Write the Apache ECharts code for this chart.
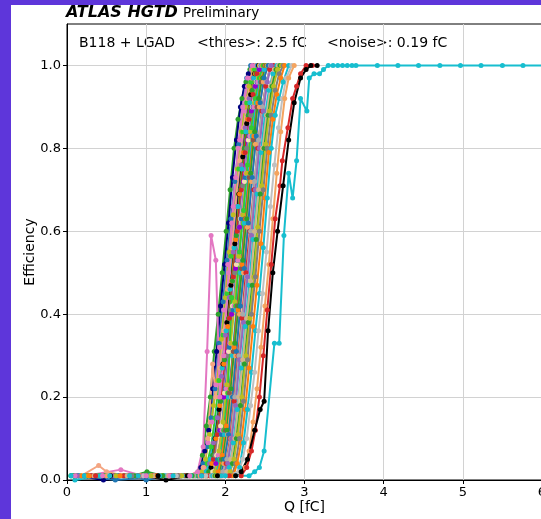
<!DOCTYPE html>
<html><head><meta charset="utf-8">
<script src="https://cdn.jsdelivr.net/npm/echarts@6/dist/echarts.min.js"></script>
<style>
html,body{margin:0;padding:0;background:#5e36da;width:541px;height:519px;overflow:hidden;}
#panel{position:absolute;left:11px;top:5px;width:530px;height:514px;background:#ffffff;}
#chart{position:absolute;left:0;top:0;width:541px;height:519px;}
</style></head>
<body><div id="panel"></div><div id="chart"></div>
<script>
// Tick labels
const xTicks = [0, 1, 2, 3, 4, 5, 6];
const yTicks = [0.0, 0.2, 0.4, 0.6, 0.8, 1.0];

// Efficiency curves: [Q (fC), efficiency]
const ch01 = [[0.08,0.01],[0.35,0.01],[0.62,0.01],[0.9,0.01],[1.18,0.01],[1.42,0.01],[1.62,0.01],[1.66,0.02],[1.71,0.06],[1.76,0.13],[1.81,0.2],[1.86,0.31],[1.91,0.4],[1.96,0.5],[2.01,0.6],[2.06,0.7],[2.11,0.8],[2.16,0.87],[2.21,0.92],[2.26,0.96],[2.31,0.99],[2.36,1.0],[2.5,1.0]];
const ch02 = [[0.14,0.01],[0.46,0.0],[0.78,0.01],[1.2,0.01],[1.48,0.01],[1.65,0.01],[1.69,0.03],[1.74,0.07],[1.79,0.12],[1.84,0.22],[1.89,0.31],[1.94,0.42],[1.99,0.52],[2.04,0.62],[2.09,0.73],[2.14,0.82],[2.19,0.9],[2.24,0.95],[2.29,0.98],[2.34,1.0],[2.45,1.0]];
const ch03 = [[0.15,0.01],[0.52,0.01],[0.81,0.01],[1.0,0.0],[1.28,0.01],[1.52,0.01],[1.67,0.01],[1.72,0.04],[1.77,0.08],[1.82,0.15],[1.87,0.22],[1.92,0.33],[1.97,0.43],[2.02,0.53],[2.07,0.63],[2.12,0.72],[2.17,0.81],[2.22,0.9],[2.27,0.97],[2.32,1.0],[2.4,1.0]];
const ch04 = [[0.24,0.01],[0.68,0.025],[0.96,0.01],[1.4,0.01],[1.58,0.01],[1.68,0.01],[1.73,0.03],[1.78,0.09],[1.83,0.14],[1.88,0.23],[1.93,0.32],[1.98,0.41],[2.03,0.52],[2.08,0.62],[2.13,0.73],[2.18,0.82],[2.23,0.89],[2.28,0.95],[2.33,0.99],[2.38,1.0]];
const ch05 = [[0.2,0.01],[0.57,0.01],[0.93,0.01],[1.3,0.01],[1.56,0.01],[1.7,0.02],[1.75,0.05],[1.8,0.11],[1.85,0.18],[1.9,0.24],[1.95,0.34],[2.0,0.44],[2.05,0.55],[2.1,0.64],[2.15,0.75],[2.2,0.84],[2.25,0.9],[2.3,0.95],[2.35,0.99],[2.4,1.0]];
const ch06 = [[0.05,0.01],[0.29,0.01],[0.6,0.01],[0.87,0.01],[1.13,0.01],[1.5,0.01],[1.72,0.01],[1.77,0.04],[1.82,0.08],[1.87,0.15],[1.92,0.24],[1.97,0.35],[2.02,0.45],[2.07,0.54],[2.12,0.66],[2.17,0.75],[2.22,0.84],[2.27,0.91],[2.32,0.96],[2.37,0.99],[2.42,1.0]];
const ch07 = [[0.18,0.01],[0.4,0.035],[0.5,0.02],[0.74,0.01],[1.08,0.01],[1.55,0.01],[1.72,0.03],[1.78,0.1],[1.84,0.28],[1.88,0.2],[1.93,0.27],[1.98,0.36],[2.03,0.46],[2.08,0.56],[2.13,0.66],[2.18,0.77],[2.23,0.85],[2.28,0.92],[2.33,0.97],[2.38,1.0],[2.48,1.0]];
const ch08 = [[0.35,0.01],[0.71,0.01],[1.1,0.01],[1.37,0.01],[1.61,0.01],[1.75,0.01],[1.8,0.04],[1.85,0.09],[1.9,0.15],[1.95,0.25],[2.0,0.35],[2.05,0.44],[2.1,0.55],[2.15,0.66],[2.2,0.76],[2.25,0.85],[2.3,0.92],[2.35,0.97],[2.4,1.0]];
const ch09 = [[0.1,0.0],[0.43,0.01],[0.75,0.01],[1.05,0.01],[1.45,0.01],[1.64,0.01],[1.76,0.02],[1.81,0.05],[1.86,0.1],[1.91,0.17],[1.96,0.27],[2.01,0.36],[2.06,0.46],[2.11,0.56],[2.16,0.66],[2.21,0.75],[2.26,0.84],[2.31,0.91],[2.36,0.97],[2.41,1.0]];
const ch10 = [[0.26,0.01],[0.55,0.01],[0.98,0.01],[1.25,0.0],[1.54,0.01],[1.77,0.01],[1.82,0.03],[1.87,0.1],[1.92,0.17],[1.97,0.28],[2.02,0.38],[2.07,0.47],[2.12,0.57],[2.17,0.69],[2.22,0.78],[2.27,0.86],[2.32,0.93],[2.37,0.98],[2.42,1.0]];
const ch11 = [[0.25,0.01],[0.59,0.01],[0.95,0.01],[1.33,0.01],[1.6,0.01],[1.78,0.01],[1.83,0.04],[1.88,0.1],[1.93,0.18],[1.98,0.28],[2.03,0.37],[2.08,0.48],[2.13,0.58],[2.18,0.69],[2.23,0.79],[2.28,0.87],[2.33,0.94],[2.38,0.98],[2.43,1.0]];
const ch12 = [[0.12,0.01],[0.47,0.01],[0.83,0.01],[1.01,0.02],[1.22,0.01],[1.6,0.01],[1.79,0.02],[1.84,0.06],[1.89,0.11],[1.94,0.19],[1.99,0.29],[2.04,0.39],[2.09,0.48],[2.14,0.59],[2.19,0.7],[2.24,0.8],[2.29,0.88],[2.34,0.94],[2.39,0.98],[2.44,1.0]];
const ch13 = [[0.45,0.01],[0.77,0.01],[1.12,0.01],[1.35,0.01],[1.66,0.01],[1.8,0.01],[1.85,0.05],[1.9,0.11],[1.95,0.2],[2.0,0.3],[2.05,0.39],[2.1,0.49],[2.15,0.6],[2.2,0.7],[2.25,0.79],[2.3,0.87],[2.35,0.93],[2.4,0.98],[2.45,1.0]];
const ch14 = [[0.39,0.01],[0.7,0.01],[1.03,0.01],[1.39,0.01],[1.63,0.01],[1.82,0.01],[1.87,0.06],[1.92,0.12],[1.97,0.2],[2.02,0.3],[2.07,0.41],[2.12,0.5],[2.17,0.61],[2.22,0.71],[2.27,0.8],[2.32,0.88],[2.37,0.95],[2.42,0.99],[2.47,1.0]];
const ch15 = [[0.3,0.01],[0.66,0.01],[1.15,0.01],[1.44,0.01],[1.7,0.01],[1.83,0.01],[1.88,0.04],[1.93,0.12],[1.98,0.2],[2.03,0.31],[2.08,0.4],[2.13,0.51],[2.18,0.61],[2.23,0.72],[2.28,0.82],[2.33,0.89],[2.38,0.95],[2.43,0.99],[2.48,1.0]];
const ch16 = [[0.2,0.01],[0.53,0.01],[0.85,0.01],[1.19,0.01],[1.57,0.01],[1.84,0.02],[1.89,0.06],[1.94,0.13],[1.99,0.21],[2.04,0.31],[2.09,0.42],[2.14,0.52],[2.19,0.63],[2.24,0.72],[2.29,0.82],[2.34,0.9],[2.39,0.96],[2.44,1.0]];
const ch17 = [[0.32,0.01],[0.65,0.01],[0.99,0.01],[1.5,0.01],[1.69,0.01],[1.85,0.01],[1.9,0.05],[1.95,0.11],[2.0,0.22],[2.05,0.32],[2.1,0.41],[2.15,0.53],[2.2,0.63],[2.25,0.73],[2.3,0.83],[2.35,0.9],[2.4,0.96],[2.45,1.0]];
const ch18 = [[0.11,0.01],[0.49,0.01],[0.9,0.01],[1.26,0.01],[1.62,0.01],[1.86,0.01],[1.91,0.06],[1.96,0.12],[2.01,0.22],[2.06,0.33],[2.11,0.42],[2.16,0.53],[2.21,0.64],[2.26,0.74],[2.31,0.83],[2.36,0.9],[2.41,0.96],[2.46,1.0]];
const ch19 = [[0.4,0.01],[0.8,0.01],[1.2,0.01],[1.47,0.01],[1.73,0.01],[1.87,0.02],[1.92,0.07],[1.97,0.14],[2.02,0.23],[2.07,0.33],[2.12,0.43],[2.17,0.54],[2.22,0.64],[2.27,0.74],[2.32,0.84],[2.37,0.91],[2.42,0.97],[2.47,1.0]];
const ch20 = [[0.08,0.01],[0.37,0.01],[0.72,0.01],[1.05,0.01],[1.36,0.01],[1.65,0.01],[1.88,0.01],[1.93,0.05],[1.98,0.12],[2.03,0.21],[2.08,0.44],[2.13,0.42],[2.18,0.55],[2.23,0.65],[2.28,0.76],[2.33,0.85],[2.38,0.92],[2.43,0.97],[2.48,1.0]];
const ch21 = [[0.16,0.01],[0.5,0.01],[0.88,0.01],[1.24,0.01],[1.59,0.01],[1.88,0.01],[1.94,0.05],[1.99,0.11],[2.04,0.2],[2.09,0.3],[2.14,0.41],[2.19,0.5],[2.24,0.62],[2.29,0.73],[2.34,0.83],[2.39,0.91],[2.44,0.96],[2.49,0.99],[2.54,1.0]];
const ch22 = [[0.6,0.01],[1.02,0.01],[1.41,0.01],[1.72,0.01],[1.9,0.01],[1.95,0.05],[2.0,0.12],[2.05,0.21],[2.1,0.31],[2.15,0.42],[2.2,0.51],[2.25,0.63],[2.3,0.73],[2.35,0.82],[2.4,0.9],[2.45,0.96],[2.5,1.0]];
const ch23 = [[0.18,0.01],[0.56,0.01],[0.92,0.01],[1.45,0.01],[1.74,0.01],[1.91,0.02],[1.96,0.06],[2.01,0.13],[2.06,0.22],[2.11,0.32],[2.16,0.41],[2.21,0.52],[2.26,0.63],[2.31,0.74],[2.36,0.83],[2.41,0.91],[2.46,0.97],[2.51,1.0]];
const ch24 = [[0.05,0.01],[0.41,0.01],[0.8,0.01],[1.16,0.01],[1.51,0.01],[1.76,0.01],[1.92,0.01],[1.97,0.05],[2.02,0.12],[2.07,0.22],[2.12,0.33],[2.17,0.42],[2.22,0.53],[2.27,0.63],[2.32,0.74],[2.37,0.84],[2.42,0.92],[2.47,0.97],[2.52,1.0]];
const ch25 = [[0.33,0.01],[0.69,0.01],[1.07,0.01],[1.43,0.01],[1.78,0.01],[1.93,0.01],[1.98,0.04],[2.03,0.11],[2.08,0.2],[2.13,0.3],[2.18,0.4],[2.23,0.5],[2.28,0.61],[2.33,0.72],[2.38,0.81],[2.43,0.9],[2.48,0.96],[2.53,1.0]];
const ch26 = [[0.22,0.01],[0.61,0.0],[1.3,0.01],[1.67,0.01],[1.94,0.01],[1.99,0.05],[2.04,0.11],[2.09,0.2],[2.14,0.31],[2.19,0.42],[2.24,0.51],[2.29,0.62],[2.34,0.73],[2.39,0.83],[2.44,0.91],[2.49,0.97],[2.54,1.0]];
const ch27 = [[0.31,0.01],[0.72,0.01],[1.09,0.01],[1.49,0.01],[1.8,0.01],[1.96,0.01],[2.01,0.04],[2.06,0.1],[2.11,0.19],[2.16,0.3],[2.21,0.39],[2.26,0.5],[2.31,0.6],[2.36,0.7],[2.41,0.8],[2.46,0.89],[2.51,0.95],[2.56,0.99],[2.61,1.0]];
const ch28 = [[0.44,0.01],[0.86,0.01],[1.27,0.01],[1.6,0.01],[1.82,0.01],[1.97,0.02],[2.02,0.05],[2.07,0.1],[2.12,0.2],[2.17,0.3],[2.22,0.4],[2.27,0.49],[2.32,0.6],[2.37,0.72],[2.42,0.82],[2.47,0.9],[2.52,0.96],[2.57,1.0]];
const ch29 = [[0.13,0.01],[0.58,0.01],[0.95,0.01],[1.32,0.01],[1.71,0.01],[1.98,0.01],[2.03,0.04],[2.08,0.1],[2.13,0.18],[2.18,0.29],[2.23,0.38],[2.28,0.49],[2.33,0.59],[2.38,0.7],[2.43,0.8],[2.48,0.89],[2.53,0.96],[2.58,1.0]];
const ch30 = [[0.22,0.01],[0.63,0.01],[1.04,0.01],[1.46,0.01],[1.84,0.01],[2.0,0.01],[2.05,0.03],[2.1,0.09],[2.15,0.17],[2.2,0.27],[2.25,0.37],[2.3,0.47],[2.35,0.58],[2.4,0.69],[2.45,0.79],[2.5,0.88],[2.55,0.94],[2.6,0.98],[2.65,1.0]];
const ch31 = [[0.34,0.01],[0.76,0.01],[1.1,0.01],[1.53,0.01],[1.86,0.01],[2.02,0.02],[2.07,0.05],[2.12,0.1],[2.17,0.2],[2.22,0.29],[2.27,0.39],[2.32,0.48],[2.37,0.6],[2.42,0.7],[2.47,0.8],[2.52,0.88],[2.57,0.95],[2.62,0.99],[2.67,1.0]];
const ch32 = [[0.09,0.01],[0.48,0.01],[0.85,0.01],[1.21,0.01],[1.58,0.01],[1.87,0.01],[2.04,0.01],[2.09,0.04],[2.14,0.1],[2.19,0.18],[2.24,0.28],[2.29,0.38],[2.34,0.47],[2.39,0.58],[2.44,0.69],[2.49,0.8],[2.54,0.88],[2.59,0.95],[2.64,0.99],[2.69,1.0]];
const ch33 = [[0.27,0.01],[0.62,0.01],[1.06,0.01],[1.45,0.01],[1.89,0.01],[2.06,0.02],[2.11,0.05],[2.16,0.11],[2.21,0.2],[2.26,0.3],[2.31,0.39],[2.36,0.49],[2.41,0.61],[2.46,0.71],[2.51,0.81],[2.56,0.89],[2.61,0.95],[2.66,0.99],[2.71,1.0]];
const ch34 = [[0.38,0.01],[0.82,0.01],[1.4,0.01],[1.75,0.01],[1.92,0.01],[2.08,0.01],[2.13,0.04],[2.18,0.1],[2.23,0.19],[2.28,0.29],[2.33,0.4],[2.38,0.49],[2.43,0.6],[2.48,0.7],[2.53,0.8],[2.58,0.88],[2.63,0.94],[2.68,0.98],[2.73,1.0]];
const ch35 = [[0.28,0.01],[0.67,0.01],[1.14,0.01],[1.55,0.01],[1.94,0.01],[2.1,0.01],[2.15,0.04],[2.2,0.09],[2.25,0.17],[2.3,0.27],[2.35,0.37],[2.4,0.47],[2.45,0.57],[2.5,0.68],[2.55,0.79],[2.6,0.87],[2.65,0.93],[2.7,0.97],[2.75,1.0]];
const ch36 = [[0.06,0.01],[0.42,0.01],[0.79,0.01],[1.17,0.01],[1.56,0.01],[1.95,0.01],[2.13,0.01],[2.18,0.03],[2.23,0.09],[2.28,0.17],[2.33,0.26],[2.38,0.36],[2.43,0.45],[2.48,0.56],[2.53,0.68],[2.58,0.8],[2.63,0.88],[2.68,0.92],[2.73,0.96],[2.8,1.0]];
const ch37 = [[0.53,0.01],[0.97,0.01],[1.38,0.01],[1.75,0.01],[2.0,0.01],[2.17,0.02],[2.22,0.05],[2.27,0.1],[2.32,0.18],[2.37,0.26],[2.42,0.36],[2.47,0.45],[2.52,0.55],[2.57,0.66],[2.62,0.76],[2.67,0.85],[2.72,0.92],[2.77,0.97],[2.84,1.0]];
const ch38 = [[0.5,0.01],[0.91,0.01],[1.29,0.01],[1.68,0.01],[2.03,0.01],[2.2,0.01],[2.25,0.03],[2.3,0.07],[2.35,0.14],[2.4,0.22],[2.45,0.32],[2.5,0.42],[2.55,0.52],[2.6,0.63],[2.65,0.74],[2.7,0.84],[2.75,0.92],[2.8,0.97],[2.87,1.0]];
const ch39 = [[0.36,0.01],[0.9,0.01],[1.31,0.01],[1.7,0.01],[2.05,0.01],[2.2,0.01],[2.27,0.03],[2.33,0.07],[2.38,0.12],[2.43,0.2],[2.48,0.3],[2.53,0.41],[2.58,0.52],[2.63,0.63],[2.69,0.71],[2.72,0.77],[2.79,0.85],[2.85,0.92],[2.9,0.95],[2.95,0.98],[3.02,1.0],[3.1,1.0]];
const ch40 = [[0.55,0.01],[1.15,0.01],[1.52,0.01],[1.9,0.01],[2.13,0.01],[2.2,0.02],[2.28,0.05],[2.37,0.12],[2.44,0.17],[2.49,0.19],[2.54,0.36],[2.6,0.5],[2.66,0.6],[2.73,0.71],[2.8,0.82],[2.87,0.91],[2.95,0.97],[3.02,0.99],[3.08,1.0],[3.16,1.0]];
const pinkOutlier = [[0.1,0.01],[0.45,0.01],[1.0,0.01],[1.3,0.01],[1.55,0.01],[1.65,0.02],[1.72,0.08],[1.77,0.31],[1.82,0.59],[1.88,0.53],[1.93,0.2],[1.98,0.3],[2.04,0.5],[2.1,0.66],[2.16,0.8],[2.22,0.9],[2.28,0.97],[2.34,1.0]];
const cyanOutlier = [[0.05,0.01],[0.54,0.01],[0.9,0.01],[1.34,0.01],[1.7,0.01],[2.0,0.01],[2.3,0.01],[2.37,0.02],[2.43,0.03],[2.49,0.07],[2.62,0.33],[2.68,0.33],[2.74,0.59],[2.8,0.74],[2.85,0.68],[2.9,0.77],[2.95,0.92],[3.03,0.89],[3.06,0.97],[3.12,0.98],[3.19,0.98],[3.24,0.99],[3.3,1.0],[3.36,1.0],[3.42,1.0],[3.48,1.0],[3.54,1.0],[3.6,1.0],[3.65,1.0],[3.92,1.0],[4.18,1.0],[4.44,1.0],[4.71,1.0],[4.97,1.0],[5.23,1.0],[5.5,1.0],[5.76,1.0],[6.02,1.0]];

const curveColors = ['#2ca02c','#000080','#1f77b4','#e377c2','#bcbd22','#32cd32','#f4a582','#9467bd','#17becf','#000000',
  '#ff7f0e','#2ca02c','#d62728','#7f7f7f','#9400d3','#f5deb3','#1f77b4','#e377c2','#bcbd22','#32cd32',
  '#17becf','#8c564b','#ff7f0e','#2ca02c','#f4a460','#1f77b4','#d62728','#a9a9a9','#9467bd','#17becf',
  '#d2b48c','#2ca02c','#bcbd22','#7f7f7f','#ff7f0e','#17becf','#c0c0c0','#f4a460','#d62728','#000000',
  '#e377c2','#17becf'];

const allCurves = [ch01,ch02,ch03,ch04,ch05,ch06,ch07,ch08,ch09,ch10,ch11,ch12,ch13,ch14,ch15,ch16,ch17,ch18,ch19,ch20,
  ch21,ch22,ch23,ch24,ch25,ch26,ch27,ch28,ch29,ch30,ch31,ch32,ch33,ch34,ch35,ch36,ch37,ch38,ch39,ch40,pinkOutlier,cyanOutlier];

const FONT = 'DejaVu Sans';
const chart = echarts.init(document.getElementById('chart'), null, {renderer:'canvas'});

const series = allCurves.map((d, i) => ({
  type: 'line',
  data: d,
  symbol: 'circle',
  symbolSize: 5,
  showSymbol: true,
  lineStyle: {width: 2, color: curveColors[i]},
  itemStyle: {color: curveColors[i]},
  emphasis: {disabled: true},
  silent: true,
  z: 3
}));

const option = {
  animation: false,
  backgroundColor: 'transparent',
  grid: {left: 67, top: 24, right: -1, bottom: 39, outerBoundsMode: 'none', containLabel: false,
    show: true, borderColor: '#000', borderWidth: 1, backgroundColor: 'transparent'},
  xAxis: {
    type: 'value', min: 0, max: 6, interval: 1,
    name: 'Q [fC]', nameLocation: 'middle', nameGap: 20, nameMoveOverlap: false,
    nameTextStyle: {color: '#000', fontSize: 14, fontFamily: FONT},
    axisLine: {show: true, onZero: false, lineStyle: {color: '#000', width: 1}},
    axisTick: {show: true, length: 4, lineStyle: {color: '#000'}},
    axisLabel: {color: '#000', fontSize: 13, fontFamily: FONT, margin: 6, hideOverlap: false,
      customValues: xTicks,
      formatter: v => String(v)},
    splitLine: {show: true, lineStyle: {color: '#d2d2d2', width: 1}}
  },
  yAxis: {
    type: 'value', min: 0, max: 1.1, interval: 0.2,
    name: 'Efficiency', nameLocation: 'middle', nameGap: 30, nameRotate: 90, nameMoveOverlap: false,
    nameTextStyle: {color: '#000', fontSize: 14, fontFamily: FONT},
    axisLine: {show: true, onZero: false, lineStyle: {color: '#000', width: 1}},
    axisTick: {show: true, length: 4, lineStyle: {color: '#000'}, customValues: yTicks},
    axisLabel: {color: '#000', fontSize: 13, fontFamily: FONT, margin: 6,
      customValues: yTicks,
      formatter: v => (v <= 1.0001 ? v.toFixed(1) : '')},
    splitLine: {show: true, lineStyle: {color: '#d2d2d2', width: 1}}
  },
  graphic: [
    {type: 'text', left: 66, top: 5, style: {text: 'ATLAS HGTD', font: 'italic bold 16px "DejaVu Sans"', fill: '#000'}},
    {type: 'text', left: 183, top: 6, style: {text: 'Preliminary', font: '13.5px "DejaVu Sans"', fill: '#000'}},
    {type: 'text', left: 79, top: 36, style: {text: 'B118 + LGAD', font: '14px "DejaVu Sans"', fill: '#000'}},
    {type: 'text', left: 197, top: 36, style: {text: '<thres>: 2.5 fC', font: '14px "DejaVu Sans"', fill: '#000'}},
    {type: 'text', left: 327, top: 36, style: {text: '<noise>: 0.19 fC', font: '14px "DejaVu Sans"', fill: '#000'}}
  ],
  series: series
};
chart.setOption(option);
</script>
</body></html>
